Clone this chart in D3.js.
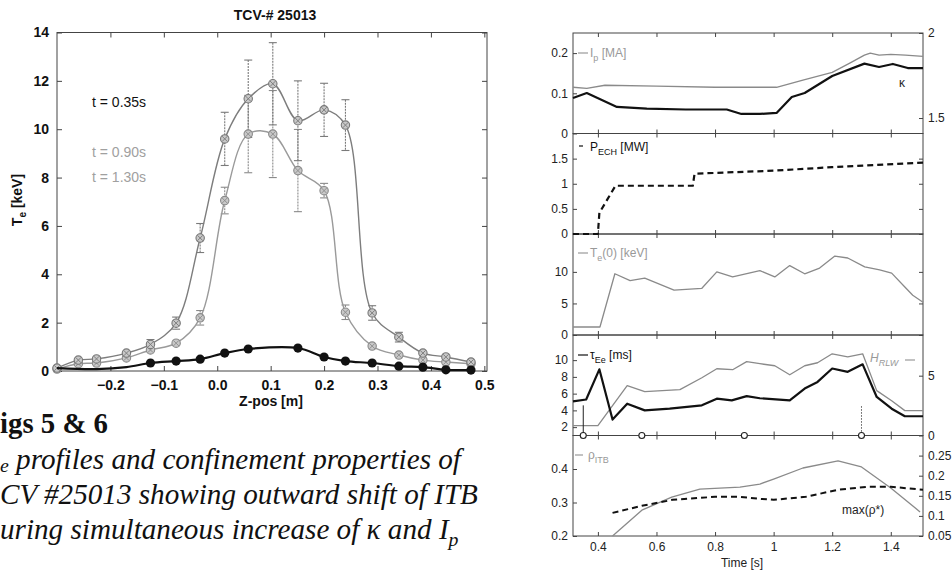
<!DOCTYPE html>
<html><head><meta charset="utf-8">
<script src="https://cdn.jsdelivr.net/npm/d3@7"></script>
<style>body{margin:0;background:#fff} svg{display:block}</style>
</head><body><script>
// ================= DATA =================
// Left chart: Te profiles vs Z-pos
const zGray   = [-0.3,-0.26,-0.226,-0.17,-0.125,-0.077,-0.032,0.014,0.058,0.104,0.151,0.2,0.24,0.29,0.34,0.385,0.428,0.475];
const teUpper = [0.12,0.45,0.5,0.74,1.1,1.98,5.5,9.6,11.26,11.88,10.35,10.8,10.17,2.4,1.4,0.74,0.58,0.37];
const errUpper= [0.1,0.1,0.1,0.15,0.2,0.25,0.6,1.1,1.6,1.7,1.65,1.1,1.05,0.3,0.2,0.15,0.1,0.1];
const teLower = [0.08,0.3,0.33,0.54,0.87,1.15,2.2,7.05,9.8,9.8,8.29,7.46,2.43,1.03,0.66,0.45,0.37,0.3];
const errLower= [0.1,0.1,0.1,0.1,0.12,0.12,0.3,0.55,1.6,1.8,1.7,0.3,0.3,0.15,0.1,0.1,0.1,0.1];
const zBlack  = [-0.3,-0.226,-0.17,-0.125,-0.077,-0.032,0.014,0.058,0.151,0.2,0.24,0.29,0.34,0.385,0.428,0.475];
const teBlack = [0.12,0.08,0.16,0.33,0.41,0.49,0.74,0.91,0.95,0.58,0.41,0.33,0.2,0.16,0.05,0.04];
const leftXTicks = [-0.2,-0.1,0,0.1,0.2,0.3,0.4,0.5];
const leftYTicks = [0,2,4,6,8,10,12,14];
const timeLabels = ["t = 0.35s","t = 0.90s","t = 1.30s"];

// Right chart: time traces
const tIp   = [0.315,0.362,0.424,0.6,0.8,1.01,1.1,1.2,1.26,1.31,1.33,1.36,1.4,1.45,1.51];
const ip    = [0.115,0.112,0.12,0.118,0.115,0.115,0.133,0.152,0.175,0.195,0.2,0.195,0.197,0.195,0.192];
const tKap  = [0.315,0.362,0.465,0.567,0.7,0.84,0.89,0.953,1.01,1.062,1.106,1.2,1.31,1.36,1.407,1.458,1.51];
const kappa = [1.618,1.647,1.565,1.555,1.55,1.55,1.524,1.524,1.53,1.624,1.647,1.747,1.82,1.80,1.818,1.794,1.794];
const tEch  = [0.315,0.4,0.405,0.46,0.724,0.73,1.0,1.2,1.51];
const pEch  = [0,0,0.42,0.96,0.96,1.2,1.26,1.33,1.42];
const tTe0  = [0.315,0.407,0.458,0.51,0.56,0.66,0.755,0.806,0.86,0.953,1.004,1.055,1.106,1.157,1.209,1.253,1.311,1.362,1.403,1.448,1.475,1.51];
const te0   = [1.27,1.27,9.7,8.6,9.0,7.1,7.4,10.0,9.2,10.2,9.2,11.0,9.7,10.6,12.5,12.2,10.8,10.3,9.8,7.6,6.3,5.2];
const tTau  = [0.315,0.36,0.405,0.45,0.5,0.56,0.645,0.755,0.806,0.857,0.908,0.953,1.055,1.106,1.15,1.2,1.253,1.304,1.352,1.403,1.448,1.51];
const tauE  = [5.08,5.3,8.9,2.9,4.8,4.0,4.2,4.6,5.4,5.2,5.7,5.45,5.2,6.6,7.4,9.0,8.6,9.5,5.6,4.2,3.3,3.3];
const tH    = [0.315,0.4,0.5,0.56,0.68,0.755,0.806,0.86,0.908,0.953,1.004,1.055,1.106,1.15,1.2,1.253,1.304,1.352,1.403,1.448,1.51];
const hRlw  = [0.83,0.83,4.17,3.67,3.83,4.83,5.58,5.5,6.17,6.0,5.83,5.08,5.83,6.08,6.83,6.58,6.83,3.75,2.9,2.08,2.08];
const tMark = [0.35,0.55,0.9,1.3];
const tRho  = [0.45,0.55,0.652,0.748,0.816,0.885,0.953,1.0,1.1,1.22,1.3,1.4,1.5];
const rhoItb= [0.2,0.277,0.316,0.34,0.343,0.346,0.355,0.37,0.403,0.424,0.406,0.343,0.272];
const tRs   = [0.45,0.55,0.655,0.8,0.885,0.953,1.0,1.11,1.22,1.32,1.4,1.51];
const rhoStar=[0.1075,0.125,0.14,0.1475,0.1475,0.1425,0.14,0.1475,0.165,0.1725,0.1725,0.165];
const timeTicks = [0.4,0.6,0.8,1.0,1.2,1.4];

// caption
const captionHead = "igs 5 & 6";
const captionL1 = " profiles and confinement properties of";
const captionL2 = "CV #25013 showing outward shift of ITB";
const captionL3 = "uring simultaneous increase of κ and I";

// ================= DRAW =================
const W = 952, H = 572;
const svg = d3.select("body").append("svg").attr("width", W).attr("height", H)
  .style("font-family", "'Liberation Sans', Arial, sans-serif");
svg.append("rect").attr("width", W).attr("height", H).attr("fill", "#fff");

const GRAY = "#8a8a8a", GRAY2 = "#9a9a9a", AX = "#444";

// ---------- LEFT CHART ----------
const L = {x0: 57, x1: 487, y0: 32.5, y1: 371};
const xz = d3.scaleLinear().domain([-0.3, 0.505]).range([L.x0, L.x1]);
const yt = d3.scaleLinear().domain([0, 14]).range([L.y1, L.y0]);
const gl = svg.append("g");

gl.append("rect").attr("x", L.x0).attr("y", L.y0).attr("width", L.x1 - L.x0).attr("height", L.y1 - L.y0)
  .attr("fill", "none").attr("stroke", AX).attr("stroke-width", 1);

const axB = gl.append("g").attr("transform", `translate(0,${L.y1})`)
  .call(d3.axisBottom(xz).tickValues(leftXTicks).tickSizeInner(-5).tickSizeOuter(0).tickPadding(9));
const axT = gl.append("g").attr("transform", `translate(0,${L.y0})`)
  .call(d3.axisTop(xz).tickValues(leftXTicks).tickSizeInner(-5).tickSizeOuter(0).tickFormat(""));
const axL = gl.append("g").attr("transform", `translate(${L.x0},0)`)
  .call(d3.axisLeft(yt).tickValues(leftYTicks).tickSizeInner(-5).tickSizeOuter(0).tickPadding(8).tickFormat(d3.format("d")));
const axR = gl.append("g").attr("transform", `translate(${L.x1},0)`)
  .call(d3.axisRight(yt).tickValues(leftYTicks).tickSizeInner(-5).tickSizeOuter(0).tickFormat(""));
[axB, axT, axL, axR].forEach(a => {
  a.select(".domain").remove();
  a.selectAll("line").attr("stroke", AX);
  a.selectAll("text").attr("font-size", 14).attr("font-weight", "bold").attr("fill", "#111")
    .attr("font-family", "'Liberation Sans', Arial, sans-serif");
});

const lineZ = (zs) => d3.line().x((d, i) => xz(zs[i])).y(d => yt(d)).curve(d3.curveCatmullRom.alpha(0.5));

function errorBars(zs, vals, errs, col) {
  const g = gl.append("g").attr("stroke", col).attr("stroke-width", 1.1);
  vals.forEach((v, i) => {
    if (errs[i] < 0.2) return;
    const x = xz(zs[i]), ya = yt(v + errs[i]), yb = yt(v - errs[i]);
    g.append("line").attr("x1", x).attr("x2", x).attr("y1", ya).attr("y2", yb).attr("stroke-dasharray", "2,1");
    g.append("line").attr("x1", x - 4).attr("x2", x + 4).attr("y1", ya).attr("y2", ya);
    g.append("line").attr("x1", x - 4).attr("x2", x + 4).attr("y1", yb).attr("y2", yb);
  });
}
errorBars(zGray, teLower, errLower, "#8a8a8a");
errorBars(zGray, teUpper, errUpper, "#7a7a7a");

gl.append("path").datum(teLower).attr("d", lineZ(zGray)).attr("fill", "none").attr("stroke", GRAY2).attr("stroke-width", 1.4);
gl.append("path").datum(teUpper).attr("d", lineZ(zGray)).attr("fill", "none").attr("stroke", "#7d7d7d").attr("stroke-width", 1.4);

function grayMarkers(zs, vals, col) {
  const g = gl.append("g");
  vals.forEach((v, i) => {
    const x = xz(zs[i]), y = yt(v);
    g.append("circle").attr("cx", x).attr("cy", y).attr("r", 4.2).attr("fill", "#c8c8c8").attr("stroke", col).attr("stroke-width", 1.1);
    g.append("path").attr("d", `M${x-2.8},${y-2.8}L${x+2.8},${y+2.8}M${x-2.8},${y+2.8}L${x+2.8},${y-2.8}`)
      .attr("stroke", col).attr("stroke-width", 0.9);
  });
}
grayMarkers(zGray, teLower, "#8a8a8a");
grayMarkers(zGray, teUpper, "#777");

gl.append("path").datum(teBlack).attr("d", lineZ(zBlack)).attr("fill", "none").attr("stroke", "#111").attr("stroke-width", 2.2);
gl.append("g").selectAll("circle").data(teBlack.slice(3)).join("circle")
  .attr("cx", (d, i) => xz(zBlack[i + 3])).attr("cy", d => yt(d)).attr("r", 4.6).attr("fill", "#111");

gl.append("text").attr("x", 92).attr("y", 107).attr("font-size", 14).attr("fill", "#111").text(timeLabels[0]);
gl.append("text").attr("x", 92).attr("y", 157).attr("font-size", 14).attr("fill", "#a0a0a0").text(timeLabels[1]);
gl.append("text").attr("x", 92).attr("y", 182).attr("font-size", 14).attr("fill", "#a0a0a0").text(timeLabels[2]);

gl.append("text").attr("x", 275).attr("y", 20).attr("text-anchor", "middle").attr("font-size", 14)
  .attr("font-weight", "bold").attr("fill", "#111").text("TCV-# 25013");
gl.append("text").attr("x", 271).attr("y", 406).attr("text-anchor", "middle").attr("font-size", 14)
  .attr("font-weight", "bold").attr("fill", "#111").text("Z-pos [m]");
const ylab = gl.append("text").attr("transform", "translate(22,200) rotate(-90)").attr("text-anchor", "middle")
  .attr("font-size", 14).attr("font-weight", "bold").attr("fill", "#111");
ylab.append("tspan").text("T");
ylab.append("tspan").attr("font-size", 10).attr("dy", 4).text("e");
ylab.append("tspan").attr("dy", -4).text(" [keV]");

// ---------- CAPTION ----------
const cap = svg.append("g").attr("font-family", "'Liberation Serif', 'Times New Roman', serif").attr("fill", "#111");
const c2 = cap.append("text").attr("x", 0).attr("y", 504).attr("font-style", "italic").attr("font-size", 28).text(captionL2);
const w2 = c2.node().getComputedTextLength();
const fs = 28 * 478 / w2;
c2.attr("font-size", fs);
const head = cap.append("text").attr("x", 0).attr("y", 433).attr("font-weight", "bold").attr("font-size", fs).text(captionHead);
const wh = head.node().getComputedTextLength();
head.attr("font-size", fs * 108 / wh);
const c1 = cap.append("text").attr("y", 469).attr("font-style", "italic").attr("font-size", fs);
c1.append("tspan").attr("x", 0).attr("dy", 3).attr("font-size", fs * 0.68).text("e");
c1.append("tspan").attr("dy", -3).text(captionL1);
const c3 = cap.append("text").attr("x", 0).attr("y", 539).attr("font-style", "italic").attr("font-size", fs);
c3.append("tspan").text(captionL3);
c3.append("tspan").attr("dy", 7).attr("font-size", fs * 0.68).text("p");

// ---------- RIGHT CHART ----------
const R = {x0: 573, x1: 923};
const xt = d3.scaleLinear().domain([0.315, 1.51]).range([R.x0, R.x1]);
const tops = [33, 133.5, 234, 335, 435.5, 536];
const gr = svg.append("g");

function panel(i, domL, ticksL, fmtL, domR, ticksR, fmtR) {
  const y0 = tops[i], y1 = tops[i + 1];
  const yl = d3.scaleLinear().domain(domL).range([y1, y0]);
  const yr = domR ? d3.scaleLinear().domain(domR).range([y1, y0]) : null;
  gr.append("rect").attr("x", R.x0).attr("y", y0).attr("width", R.x1 - R.x0).attr("height", y1 - y0)
    .attr("fill", "none").attr("stroke", AX).attr("stroke-width", 1);
  const a1 = gr.append("g").attr("transform", `translate(${R.x0},0)`)
    .call(d3.axisLeft(yl).tickValues(ticksL).tickSizeInner(-4).tickSizeOuter(0).tickPadding(5).tickFormat(fmtL));
  let a2;
  if (yr) {
    a2 = gr.append("g").attr("transform", `translate(${R.x1},0)`)
      .call(d3.axisRight(yr).tickValues(ticksR).tickSizeInner(-4).tickSizeOuter(0).tickPadding(5).tickFormat(fmtR));
  } else {
    a2 = gr.append("g").attr("transform", `translate(${R.x1},0)`)
      .call(d3.axisRight(yl).tickValues(ticksL).tickSizeInner(-4).tickSizeOuter(0).tickFormat(""));
  }
  const a3 = gr.append("g").attr("transform", `translate(0,${y1})`)
    .call(d3.axisBottom(xt).tickValues(timeTicks).tickSizeInner(-4).tickSizeOuter(0).tickPadding(6)
      .tickFormat(i === 4 ? d3.format("") : ""));
  const a4 = gr.append("g").attr("transform", `translate(0,${y0})`)
    .call(d3.axisTop(xt).tickValues(timeTicks).tickSizeInner(-4).tickSizeOuter(0).tickFormat(""));
  [a1, a2, a3, a4].forEach(a => {
    a.select(".domain").remove();
    a.selectAll("line").attr("stroke", AX);
    a.selectAll("text").attr("font-size", 12).attr("fill", "#222")
      .attr("font-family", "'Liberation Sans', Arial, sans-serif");
  });
  return {yl, yr};
}
const fmtG = d => String(+d.toFixed(3));
const p1 = panel(0, [0, 0.25], [0, 0.1, 0.2], fmtG, [1.409, 2], [1.5, 2], fmtG);
const p2 = panel(1, [0, 2], [0, 0.5, 1, 1.5], fmtG);
const p3 = panel(2, [0, 16], [0, 5, 10], fmtG);
const p4 = panel(3, [1, 13], [2, 4, 6, 8, 10], fmtG, [0, 8.4], [0, 5], fmtG);
const p5 = panel(4, [0.2, 0.5], [0.2, 0.3, 0.4], fmtG, [0.05, 0.3], [0.05, 0.1, 0.15, 0.2, 0.25], fmtG);

const lineT = (ts, ys) => d3.line().x((d, i) => xt(ts[i])).y(d => ys(d));
function trace(ts, vals, ys, col, w, dash) {
  const p = gr.append("path").datum(vals).attr("d", lineT(ts, ys)).attr("fill", "none")
    .attr("stroke", col).attr("stroke-width", w).attr("stroke-linejoin", "round");
  if (dash) p.attr("stroke-dasharray", dash);
}
trace(tIp, ip, p1.yl, GRAY, 1.3);
trace(tKap, kappa, p1.yr, "#111", 2.2);
trace(tEch, pEch, p2.yl, "#111", 2.2, "6,4");
trace(tTe0, te0, p3.yl, GRAY, 1.3);
trace(tH, hRlw, p4.yr, GRAY, 1.3);
trace(tTau, tauE, p4.yl, "#111", 2.2);
trace(tRho, rhoItb, p5.yl, GRAY, 1.3);
trace(tRs, rhoStar, p5.yr, "#111", 2.0, "6,4");

// profile-time markers
gr.append("line").attr("x1", xt(tMark[0])).attr("x2", xt(tMark[0])).attr("y1", p4.yl(4.6)).attr("y2", tops[4])
  .attr("stroke", "#222").attr("stroke-width", 1);
gr.append("line").attr("x1", xt(tMark[3])).attr("x2", xt(tMark[3])).attr("y1", p4.yl(4.5)).attr("y2", tops[4])
  .attr("stroke", "#555").attr("stroke-width", 1).attr("stroke-dasharray", "1.5,1.5");
gr.append("g").selectAll("circle").data(tMark).join("circle")
  .attr("cx", d => xt(d)).attr("cy", tops[4]).attr("r", 3).attr("fill", "#fff").attr("stroke", "#222").attr("stroke-width", 1.1);

// labels
function lab(x, y, col, parts, dashX) {
  if (dashX) gr.append("line").attr("x1", dashX[0]).attr("x2", dashX[1]).attr("y1", dashX[2]).attr("y2", dashX[2])
    .attr("stroke", col).attr("stroke-width", 1.2);
  const t = gr.append("text").attr("x", x).attr("y", y).attr("fill", col).attr("font-size", 12);
  parts.forEach(p => {
    const s = t.append("tspan").text(p.s);
    if (p.sub) s.attr("dy", 4).attr("font-size", 9);
    if (p.up) s.attr("dy", -4);
    if (p.it) s.attr("font-style", "italic");
  });
  return t;
}
lab(590, 57, "#999", [{s: "I"}, {s: "p", sub: 1}, {s: " [MA]", up: 1}], [578, 588, 53]);
lab(899, 87, "#222", [{s: "κ"}]);
lab(590, 151, "#111", [{s: "P"}, {s: "ECH", sub: 1}, {s: " [MW]", up: 1}], [579, 583, 146]);
lab(590, 257, "#999", [{s: "T"}, {s: "e", sub: 1}, {s: "(0) [keV]", up: 1}], [578, 588, 253]);
lab(590, 359, "#111", [{s: "τ"}, {s: "Ee", sub: 1}, {s: " [ms]", up: 1}], [578, 588, 355]);
lab(870, 362, "#999", [{s: "H", it: 1}, {s: "RLW", sub: 1, it: 1}], [905, 915, 360]);
lab(588, 459, "#999", [{s: "ρ"}, {s: "ITB", sub: 1}], [575, 583, 455]);
lab(842, 514, "#222", [{s: "max(ρ*)"}]);
gr.append("text").attr("x", 742).attr("y", 567).attr("text-anchor", "middle").attr("font-size", 12)
  .attr("fill", "#222").text("Time [s]");
</script></body></html>
